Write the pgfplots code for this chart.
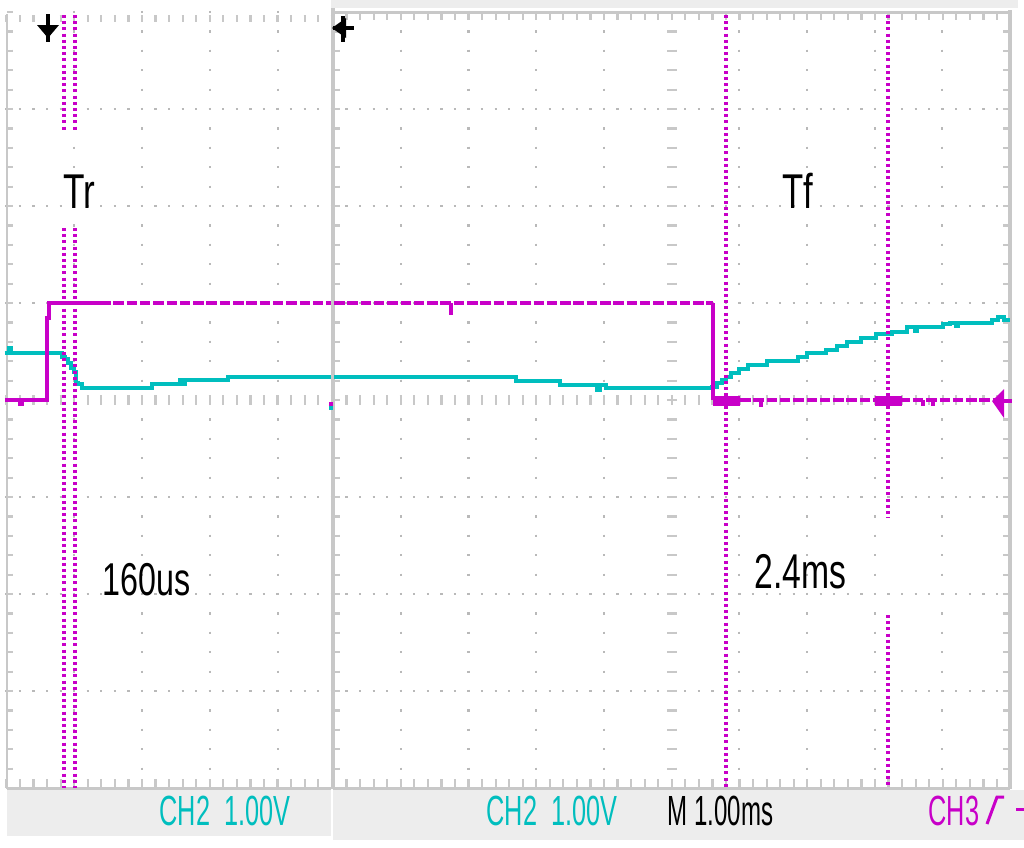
\documentclass[border=0pt]{standalone}
\usepackage{pgfplots}
\pgfplotsset{compat=1.18}
\usepackage{graphicx}
\usepackage{fontspec}
\setmainfont{Liberation Sans}
\definecolor{mag}{RGB}{200,0,200}
\definecolor{cyn}{RGB}{0,190,190}
\definecolor{grd}{RGB}{185,185,185}
\definecolor{brd}{RGB}{200,200,200}
\definecolor{sbar}{RGB}{237,237,237}
\tikzset{
  hdots/.style={grd, line width=0.22mm, dash pattern=on 0.22mm off 1.135mm},
  vdots/.style={grd, line width=0.22mm, dash pattern=on 0.22mm off 1.72mm},
  htick/.style={brd, dash pattern=on 0.22mm off 1.135mm},
  vtick/.style={brd, dash pattern=on 0.22mm off 1.72mm},
  cursor/.style={mag, line width=0.32mm, dash pattern=on 0.3mm off 0.32mm},
  tr/.style={line width=0.38mm},
  big/.style={anchor=base west, inner sep=0pt, font=\fontsize{13.9}{14}\selectfont},
  stat/.style={anchor=base west, inner sep=0pt, font=\fontsize{12}{12}\selectfont},
}
\begin{document}
\begin{tikzpicture}
\begin{axis}[scale only axis, width=10.24cm, height=8.47cm,
  xmin=0, xmax=1024, ymin=0, ymax=847, y dir=reverse,
  hide axis, clip=true]
\fill[white] (0,0) rectangle (1024,847);
% ================= left panel =================
\fill[sbar] (7,790) rectangle (331,836);
\pgfplotsinvokeforeach{109,206,303,497,594,691}{\draw[hdots] (5.4,#1) -- (331,#1);}
\pgfplotsinvokeforeach{74.3,142.1,209.9,277.7}{\draw[vdots] (#1,10.9) -- (#1,789);}
\draw[htick, line width=0.7mm] (5.4,18.5) -- (331,18.5);
\draw[htick, line width=0.9mm] (5.4,783.5) -- (331,783.5);
\draw[htick, line width=1.0mm] (5.4,400) -- (331,400);
\draw[vtick, line width=0.6mm] (10,10.9) -- (10,789);
\draw[brd, line width=0.25mm] (7,14) -- (7,789);
\draw[brd, line width=0.3mm] (7,788) -- (331,788);
% ================= right panel =================
\fill[sbar] (333,790) rectangle (1024,840);
\fill[sbar] (331,0) rectangle (1018,8);
\pgfplotsinvokeforeach{109,206,303,497,594,691}{\draw[hdots] (331.9,#1) -- (1010,#1);}
\pgfplotsinvokeforeach{400.7,468.4,536.1,603.8,739.2,806.9,874.6,942.3}{\draw[vdots] (#1,10.9) -- (#1,789);}
\draw[htick, line width=0.8mm] (331.9,16) -- (1010,16);
\draw[htick, line width=0.9mm] (331.9,783.5) -- (1010,783.5);
\draw[htick, line width=1.0mm] (331.9,400) -- (1010,400);
\draw[vtick, line width=0.5mm] (337.5,10.9) -- (337.5,789);
\draw[vtick, line width=0.6mm] (1006,10.9) -- (1006,789);
\draw[vtick, line width=1.0mm] (671.5,10.9) -- (671.5,789);
\draw[brd, line width=0.4mm] (333,8) -- (333,789);
\draw[brd, line width=0.3mm] (333,12) -- (1010,12);
\draw[brd, line width=0.4mm] (1010,10) -- (1010,789);
\draw[brd, line width=0.3mm] (333,788) -- (1010,788);
% ================= traces: left panel =================
\addplot[cyn, tr] coordinates {
 (5,353) (9,353) (9,348) (11,348) (11,353) (62,353) (62,357) (65,357)
 (65,359) (68,359) (68,363) (71,363) (71,368) (74,368) (74,372) (76,372)
 (76,383) (78,383) (78,384) (82,384) (82,388) (152,388) (152,384) (180,384)
 (180,380) (182,380) (182,384) (185,384) (185,380) (228,380) (228,377) (331,377)};
\addplot[mag, tr] coordinates {
 (5,400) (20,400) (20,404) (22,404) (22,400) (47,400) (47,318) (49,318) (49,303) (100,303)};
\addplot[mag, tr, dash pattern=on 1.05mm off 0.28mm] coordinates {(100,303) (331,303)};
\addplot[mag, tr] coordinates {(331,402) (331,406)};
\addplot[cyn, tr] coordinates {(331,406) (331,410)};
% ================= traces: right panel =================
\addplot[cyn, tr] coordinates {
 (334,377) (516,377) (516,381) (560,381) (560,385) (597,385) (597,390) (600,390)
 (600,385) (606,385) (606,388) (712,388) (712,387) (717,387) (717,383) (722,383)
 (722,380) (726,380) (726,377) (731,377) (731,373) (739,373) (739,369) (748,369)
 (748,365) (767,365) (767,361) (798,361) (798,357) (807,357) (807,353) (826,353)
 (826,350) (837,350) (837,346) (847,346) (847,342) (861,342) (861,338) (876,338)
 (876,334) (892,334) (892,332) (907,332) (907,327) (915,327) (915,331) (917,331)
 (917,327) (943,327) (943,324) (950,324) (950,323) (956,323) (956,326) (958,326)
 (958,323) (992,323) (992,320) (998,320) (998,317) (1004,317) (1004,320) (1010,320)};
\addplot[mag, tr, dash pattern=on 1.05mm off 0.28mm] coordinates {(334,303) (713,303)};
\addplot[mag, tr] coordinates {(451,303) (451,315)};
\addplot[mag, tr] coordinates {(713,303) (713,400)};
\addplot[mag, tr, dash pattern=on 1.05mm off 0.28mm] coordinates {(740,400) (995,400)};
\addplot[mag, fill=mag, draw=none] coordinates {(713,396) (740,396) (740,406) (713,406)} -- cycle;
\addplot[mag, fill=mag, draw=none] coordinates {(875,396) (902,396) (902,406) (875,406)} -- cycle;
\addplot[mag, tr] coordinates {(761,400) (761,407)};
\addplot[mag, tr] coordinates {(923,400) (923,406)};
\addplot[mag, tr] coordinates {(933,400) (933,406)};
% ground marker of CH3
\fill[mag] (992,401) -- (1004,389) -- (1004,418) -- cycle;
\draw[mag, line width=0.45mm] (995,401) -- (1012,401);
% ================= cursors =================
\addplot[cursor] coordinates {(64,15) (64,130)};
\addplot[cursor] coordinates {(64,228) (64,788)};
\addplot[cursor] coordinates {(75,15) (75,130)};
\addplot[cursor] coordinates {(75,228) (75,788)};
\addplot[cursor] coordinates {(726,15) (726,788)};
\addplot[cursor] coordinates {(888,15) (888,518)};
\addplot[cursor] coordinates {(888,615) (888,788)};
% ================= markers =================
\draw[black, line width=0.45mm] (48,14) -- (48,42);
\fill[black] (37,25) -- (59,25) -- (48,38) -- cycle;
\fill[black] (332,28) -- (346,18) -- (346,38) -- cycle;
\draw[black, line width=0.45mm] (333,28) -- (354,28);
\draw[black, line width=0.45mm] (343,16) -- (343,42);
% ================= texts =================
\node[big] at (63,208) {\scalebox{0.72}[1]{Tr}};
\node[big] at (782,208) {\scalebox{0.71}[1]{Tf}};
\node[big, font=\fontsize{13.1}{14}\selectfont] at (102,595) {\scalebox{0.70}[1]{160us}};
\node[big] at (754,588) {\scalebox{0.69}[1]{2.4ms}};
\node[stat, text=cyn] at (159,825) {\scalebox{0.6}[1]{CH2\ \ 1.00V}};
\node[stat, text=cyn] at (486,825) {\scalebox{0.6}[1]{CH2\ \ 1.00V}};
\node[stat, text=black] at (667,825) {\scalebox{0.57}[1]{M 1.00ms}};
\node[stat, text=mag] at (928,825) {\scalebox{0.6}[1]{CH3}};
\draw[mag, line width=0.3mm] (987,824) -- (997,797) -- (1004,797);
\draw[mag, line width=0.3mm] (1016,809) -- (1024,809);
\end{axis}
\end{tikzpicture}
\end{document}
